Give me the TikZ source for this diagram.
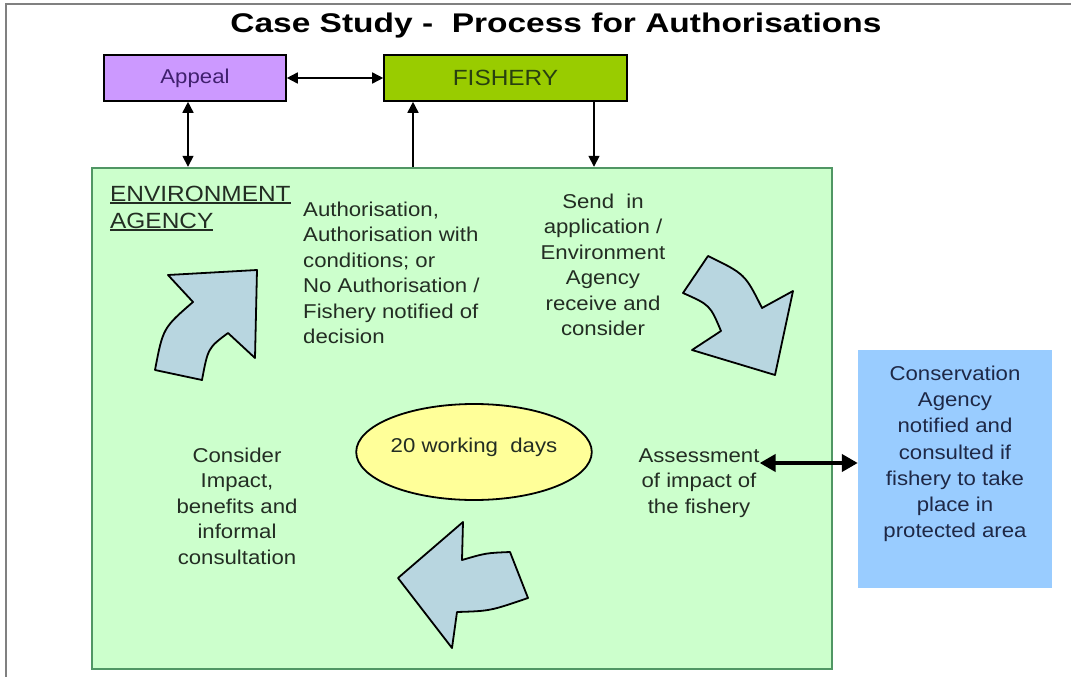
\documentclass[tikz,border=0pt]{standalone}
\usepackage{fontspec}
\setmainfont{Liberation Sans}
\newfontfamily\bodyfont[FakeStretch=1.11]{Liberation Sans}
\newfontfamily\headfont[FakeStretch=1.24]{Liberation Sans}
\usetikzlibrary{arrows.meta,shapes.geometric,positioning}
\definecolor{framegray}{RGB}{128,128,128}
\definecolor{appealfill}{RGB}{204,153,255}
\definecolor{appealtext}{RGB}{64,32,110}
\definecolor{fisheryfill}{RGB}{153,204,0}
\definecolor{fisherytext}{RGB}{40,64,16}
\definecolor{agencyfill}{RGB}{204,255,204}
\definecolor{agencyline}{RGB}{80,150,100}
\definecolor{consfill}{RGB}{153,204,255}
\definecolor{constext}{RGB}{30,40,70}
\definecolor{daysfill}{RGB}{255,255,153}
\definecolor{turnfill}{RGB}{184,214,224}
\definecolor{inkdark}{RGB}{35,45,35}
\newcommand{\agencyul}[1]{\setbox0\hbox{#1}\rlap{\rule[-2.5pt]{\wd0}{1.6pt}}\box0}
\tikzset{body/.style={font=\bodyfont\fontsize{20}{25.5}\selectfont,text=inkdark,inner sep=0pt,align=center}}

\begin{document}
\begin{tikzpicture}[x=1pt,y=-1pt,>={Triangle[length=11pt,width=11pt]},
  stagebox/.style={draw=black,line width=1.6pt,inner sep=0pt,minimum height=46pt},
  conn/.style={line width=1.6pt},
  turnarrow/.style={fill=turnfill,draw=black,line width=1.8pt,line join=round}]
  \useasboundingbox (0,0) rectangle (1071,677);
  \draw[framegray,line width=2pt] (6,677) -- (6,4) -- (1071,4);
  \node[font=\headfont\bfseries\fontsize{27}{30}\selectfont,anchor=base] (title) at (556,33) {Case Study -\ \ Process for Authorisations};
  \node[stagebox,fill=appealfill,text=appealtext,minimum width=182pt,font=\bodyfont\fontsize{20}{24}\selectfont] (appeal) at (195,78) {Appeal};
  \node[stagebox,fill=fisheryfill,text=fisherytext,minimum width=243pt,font=\bodyfont\fontsize{22}{24}\selectfont] (fishery) at (505.5,78) {FISHERY};
  \node[draw=agencyline,line width=2.4pt,fill=agencyfill,minimum width=740pt,minimum height=501pt,inner sep=0pt] (agency) at (462,418.5) {};
  \node[fill=consfill,minimum width=194pt,minimum height=238pt,inner sep=0pt] (cons) at (955,469) {};
  \node[body,text=constext,font=\bodyfont\fontsize{20}{26.2}\selectfont,below=16pt of cons.north] (constext) {Conservation\\Agency\\notified and\\consulted if\\fishery to take\\place in\\protected area};
  \node[draw=black,line width=1.8pt,fill=daysfill,ellipse,minimum width=226pt,minimum height=96pt,inner sep=0pt,
    font=\bodyfont\fontsize{20}{24}\selectfont,text=inkdark,text height=10pt,text depth=10pt] (days) at (474,452) {20 working\ \ days};

  \node[font=\bodyfont\fontsize{22}{27}\selectfont,text=inkdark,inner sep=0pt,align=left,anchor=north west] (eaname) at (110,186) {\agencyul{ENVIRONMENT}\\\agencyul{AGENCY}};
  \node[body,align=left,anchor=north west] (decide) at (303,201.5) {Authorisation,\\Authorisation with\\conditions; or\\No Authorisation /\\Fishery notified of\\decision};
  \node[body,anchor=north] (send) at (603,193.5) {Send\ \ in\\application /\\Environment\\Agency\\receive and\\consider};
  \node[body,anchor=north] (impact) at (237,447.5) {Consider\\Impact,\\benefits and\\informal\\consultation};
  \node[body,anchor=north] (assess) at (699,448.2) {Assessment\\of impact of\\the fishery};

  \coordinate (apx) at (188,0);
  \coordinate (upx) at (413,0);
  \coordinate (dnx) at (594,0);
  \coordinate (aline) at (0,463);
  \draw[conn,<->] (appeal.east) -- (fishery.west);
  \draw[conn,<->] (apx |- appeal.south) -- (apx |- agency.north);
  \draw[conn,->] (upx |- agency.north) -- (upx |- fishery.south);
  \draw[conn,->] (dnx |- fishery.south) -- (dnx |- agency.north);
  \draw[line width=4pt,{Triangle[length=16pt,width=17pt]}-{Triangle[length=16pt,width=17pt]}] (assess.east |- aline) -- (cons.west |- aline);

  \draw[turnarrow] (155,370) .. controls (163,328) .. (193,302) -- (168,275) -- (257,270) -- (255,358) -- (228,333) .. controls (208,348) .. (202,380) -- cycle;
  \draw[turnarrow] (708,256) .. controls (745,274) .. (762,308) -- (793,291) -- (775,375) -- (692,350) -- (721,331) .. controls (710,305) .. (683,293) -- cycle;
  \draw[turnarrow] (398,578) -- (463,522) -- (462,560) .. controls (486,553) .. (510,552) -- (528,598) .. controls (490,611) .. (457,612) -- (452,648) -- cycle;
\end{tikzpicture}
\end{document}
